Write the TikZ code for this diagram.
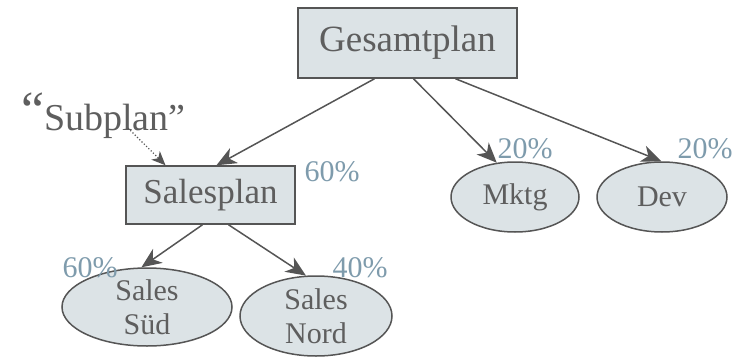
\documentclass[tikz,border=0pt]{standalone}
\usepackage{fontspec}
\setmainfont{Liberation Serif}
\usetikzlibrary{arrows.meta, shapes.geometric, calc}
\definecolor{planGray}{HTML}{5E5E5E}
\definecolor{planFill}{HTML}{DCE3E6}
\definecolor{planLine}{HTML}{555555}
\definecolor{pctBlue}{HTML}{7E9BAC}

\begin{document}
\begin{tikzpicture}[x=1pt, y=-1pt,
    box/.style={rectangle, draw=planLine, line width=1.5pt, fill=planFill,
                text=planGray, inner sep=0pt},
    oval/.style={ellipse, draw=planLine, line width=1.5pt, fill=planFill,
                 text=planGray, inner sep=0pt, align=center,
                 font=\fontsize{30}{34}\selectfont},
    pct/.style={text=pctBlue, inner sep=0pt, font=\fontsize{30}{32}\selectfont},
    arr/.style={-{Stealth[length=20pt, width=17pt, inset=6pt]}, draw=planLine,
                line width=1.5pt},
    dotarr/.style={-{Stealth[length=14pt, width=12pt, inset=4pt]}, draw=planLine,
                   line width=1.2pt, dotted},
  ]
    \useasboundingbox (0,0) rectangle (744,356);

    % ─── plans ───
    \node[box, minimum width=219pt, minimum height=70pt,
          font=\fontsize{37}{40}\selectfont] (ges) at (407.5,43) {Gesamtplan};
    \node[box, minimum width=169pt, minimum height=58pt,
          font=\fontsize{35}{38}\selectfont] (sales) at (210.5,195) {Salesplan};

    % ─── departments ───
    \node[oval, minimum width=128pt, minimum height=70pt] (mktg) at (515,197) {Mktg};
    \node[oval, minimum width=130pt, minimum height=70pt] (dev) at (662,197) {Dev};
    \node[oval, minimum width=170pt, minimum height=78pt] (sued) at (147,307) {Sales\\Süd};
    \node[oval, minimum width=152pt, minimum height=80pt] (nord) at (316,316) {Sales\\Nord};

    % ─── shares ───
    \node[pct] (psales) at (332,172) {60\%};
    \node[pct] (psued) at (90,268) {60\%};
    \node[pct] (pnord) at (360,268) {40\%};
    \node[pct] (pmktg) at (525,149) {20\%};
    \node[pct] (pdev) at (705,149) {20\%};

    % ─── subplan note ───
    \node[text=planGray, inner sep=0pt, anchor=base west,
          font=\fontsize{38}{40}\selectfont] (sub) at (21,130)
      {\raisebox{3pt}{\fontsize{52}{52}\selectfont “}Subplan”};
    \coordinate (subend) at (128,128);

    % ─── arrows ───
    \draw[arr] ([xshift=-33pt]ges.south) -- ([xshift=6pt]sales.north);
    \draw[arr] ([xshift=6pt]ges.south) -- (mktg.118);
    \draw[arr] ([xshift=48pt]ges.south) -- (dev.91);
    \draw[arr] ([xshift=-8pt]sales.south) -- (sued.98);
    \draw[arr] ([xshift=18pt]sales.south) -- (nord.104);
    \draw[dotarr] (subend) -- ([xshift=-45pt]sales.north);
\end{tikzpicture}
\end{document}
